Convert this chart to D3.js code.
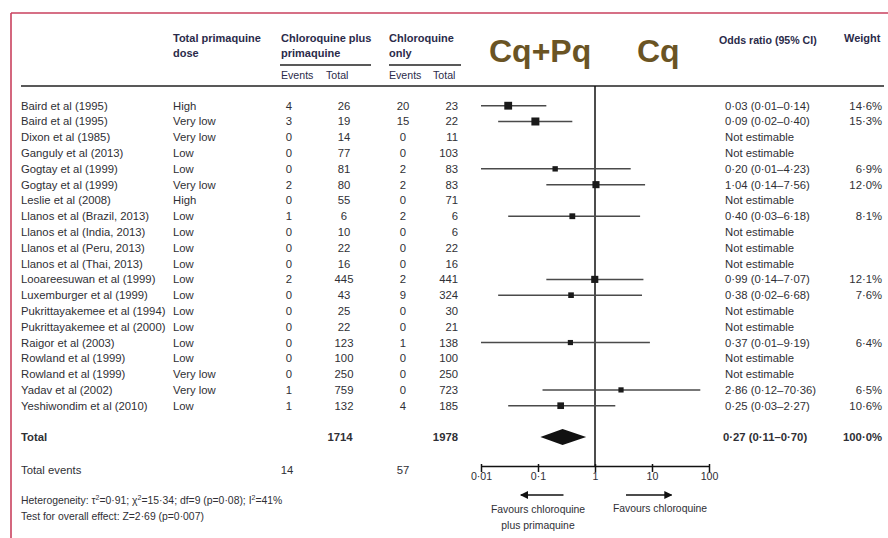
<!DOCTYPE html>
<html>
<head>
<meta charset="utf-8">
<script src="https://cdn.jsdelivr.net/npm/d3@7"></script>
<style>
  html, body { margin: 0; padding: 0; background: #fff; }
  svg { display: block; font-family: "Liberation Sans", Arial, sans-serif; }
</style>
</head>
<body>
<svg id="chart" width="888" height="538"></svg>
<script>
// Primaquine + chloroquine vs chloroquine alone: recurrence odds ratios by study
const studies = ["Baird et al (1995)", "Baird et al (1995)", "Dixon et al (1985)", "Ganguly et al (2013)",
  "Gogtay et al (1999)", "Gogtay et al (1999)", "Leslie et al (2008)", "Llanos et al (Brazil, 2013)",
  "Llanos et al (India, 2013)", "Llanos et al (Peru, 2013)", "Llanos et al (Thai, 2013)",
  "Looareesuwan et al (1999)", "Luxemburger et al (1999)", "Pukrittayakemee et al (1994)",
  "Pukrittayakemee et al (2000)", "Raigor et al (2003)", "Rowland et al (1999)", "Rowland et al (1999)",
  "Yadav et al (2002)", "Yeshiwondim et al (2010)"];
const doses = ["High", "Very low", "Very low", "Low", "Low", "Very low", "High", "Low", "Low", "Low", "Low",
  "Low", "Low", "Low", "Low", "Low", "Low", "Very low", "Very low", "Low"];
const cqpqEvents = [4, 3, 0, 0, 0, 2, 0, 1, 0, 0, 0, 2, 0, 0, 0, 0, 0, 0, 1, 1];
const cqpqTotal = [26, 19, 14, 77, 81, 80, 55, 6, 10, 22, 16, 445, 43, 25, 22, 123, 100, 250, 759, 132];
const cqEvents = [20, 15, 0, 0, 2, 2, 0, 2, 0, 0, 0, 2, 9, 0, 0, 1, 0, 0, 0, 4];
const cqTotal = [23, 22, 11, 103, 83, 83, 71, 6, 6, 22, 16, 441, 324, 30, 21, 138, 100, 250, 723, 185];
const oddsRatio = [0.03, 0.09, null, null, 0.20, 1.04, null, 0.40, null, null, null, 0.99, 0.38, null, null, 0.37, null, null, 2.86, 0.25];
const ciLow = [0.01, 0.02, null, null, 0.01, 0.14, null, 0.03, null, null, null, 0.14, 0.02, null, null, 0.01, null, null, 0.12, 0.03];
const ciHigh = [0.14, 0.40, null, null, 4.23, 7.56, null, 6.18, null, null, null, 7.07, 6.68, null, null, 9.19, null, null, 70.36, 2.27];
const weights = [14.6, 15.3, null, null, 6.9, 12.0, null, 8.1, null, null, null, 12.1, 7.6, null, null, 6.4, null, null, 6.5, 10.6];

// Pooled result
const pooled = { or: 0.27, lo: 0.11, hi: 0.70, weight: 100.0 };
const groupTotals = [1714, 1978];
const groupEvents = [14, 57];

// Axis ticks
const tickValues = [0.01, 0.1, 1, 10, 100];
const tickLabels = ["0·01", "0·1", "1", "10", "100"];

const svg = d3.select("#chart");
const ink = "#2f2f35";
const headInk = "#2b2b4a";
const fs = 11.3;

const dot = s => s.replace(/\./g, "·");
const f2 = d3.format(".2f");
const f1 = d3.format(".1f");

// Frame edges
svg.append("line").attr("x1", 11).attr("x2", 888).attr("y1", 13).attr("y2", 13)
  .attr("stroke", "#c9405e").attr("stroke-width", 1.6);
svg.append("line").attr("x1", 11).attr("x2", 11).attr("y1", 13).attr("y2", 538)
  .attr("stroke", "#c9405e").attr("stroke-width", 1.6);

// Scales
const x = d3.scaleLog().domain([0.01, 100]).range([481, 709]);
const y = d3.scalePoint().domain(d3.range(studies.length)).range([105.7, 405.7]);
const size = d3.scaleSqrt().domain([0, d3.max(weights)]).range([0, 8]);

// Header
const head = svg.append("g").attr("fill", headInk).attr("font-weight", "bold").attr("font-size", 11);
const headLines = [
  ["Total primaquine", 173, 42], ["dose", 173, 57],
  ["Chloroquine plus", 281, 42], ["primaquine", 281, 57],
  ["Chloroquine", 389, 42], ["only", 389, 57],
  ["Weight", 844, 42]
];
head.selectAll("text").data(headLines).join("text")
  .attr("x", d => d[0] === "Weight" ? d[1] : d[1]).attr("y", d => d[2]).text(d => d[0]);
svg.append("text").attr("x", 719).attr("y", 44).attr("font-size", 10.6).attr("font-weight", "bold")
  .attr("fill", headInk).text("Odds ratio (95% CI)");

svg.append("g").attr("font-size", 10.6).attr("fill", headInk)
  .selectAll("text").data([["Events", 281], ["Total", 326], ["Events", 389], ["Total", 433]]).join("text")
  .attr("x", d => d[1]).attr("y", 79).text(d => d[0]);

svg.append("g").attr("stroke", "#222").attr("stroke-width", 1.4)
  .selectAll("line").data([[280, 371], [389, 461]]).join("line")
  .attr("x1", d => d[0]).attr("x2", d => d[1]).attr("y1", 65).attr("y2", 65);
svg.append("line").attr("x1", 21).attr("x2", 884).attr("y1", 86).attr("y2", 86)
  .attr("stroke", "#222").attr("stroke-width", 1.5);

// Group labels
svg.append("g").attr("font-size", 32).attr("font-weight", "bold").attr("fill", "#6a5424")
  .selectAll("text").data([["Cq+Pq", 489], ["Cq", 637]]).join("text")
  .attr("x", d => d[1]).attr("y", 62).text(d => d[0]);

// Study rows
const rows = svg.append("g").attr("font-size", fs).attr("fill", ink)
  .selectAll("g").data(studies.map((s, i) => i)).join("g")
  .attr("transform", i => `translate(0,${y(i)})`);
rows.append("text").attr("x", 21).attr("dy", "0.35em").text(i => studies[i]);
rows.append("text").attr("x", 173).attr("dy", "0.35em").text(i => doses[i]);
rows.append("text").attr("x", 289).attr("dy", "0.35em").attr("text-anchor", "middle").text(i => cqpqEvents[i]);
rows.append("text").attr("x", 344).attr("dy", "0.35em").attr("text-anchor", "middle").text(i => cqpqTotal[i]);
rows.append("text").attr("x", 403).attr("dy", "0.35em").attr("text-anchor", "middle").text(i => cqEvents[i]);
rows.append("text").attr("x", 458).attr("dy", "0.35em").attr("text-anchor", "end").text(i => cqTotal[i]);
rows.append("text").attr("x", 725).attr("dy", "0.35em")
  .text(i => oddsRatio[i] == null ? "Not estimable"
    : `${dot(f2(oddsRatio[i]))} (${dot(f2(ciLow[i]))}–${dot(f2(ciHigh[i]))})`);
rows.append("text").attr("x", 882).attr("dy", "0.35em").attr("text-anchor", "end")
  .text(i => weights[i] == null ? "" : dot(f1(weights[i])) + "%");

// Reference line at OR = 1
svg.append("line").attr("x1", x(1)).attr("x2", x(1)).attr("y1", 86).attr("y2", 466)
  .attr("stroke", "#111").attr("stroke-width", 1.5);

// Confidence intervals and point estimates
const est = d3.range(studies.length).filter(i => oddsRatio[i] != null);
svg.append("g").selectAll("line").data(est).join("line")
  .attr("x1", i => x(ciLow[i])).attr("x2", i => x(ciHigh[i]))
  .attr("y1", i => y(i)).attr("y2", i => y(i))
  .attr("stroke", "#4a4a4a").attr("stroke-width", 1.5);
svg.append("g").selectAll("rect").data(est).join("rect")
  .attr("x", i => x(oddsRatio[i]) - size(weights[i]) / 2)
  .attr("y", i => y(i) - size(weights[i]) / 2)
  .attr("width", i => size(weights[i])).attr("height", i => size(weights[i]))
  .attr("fill", "#1a1a1a");

// Pooled row
const yTot = 437;
const tot = svg.append("g").attr("font-size", fs).attr("font-weight", "bold").attr("fill", ink);
tot.append("text").attr("x", 21).attr("y", yTot).attr("dy", "0.35em").text("Total");
tot.append("text").attr("x", 340).attr("y", yTot).attr("dy", "0.35em").attr("text-anchor", "middle").text(groupTotals[0]);
tot.append("text").attr("x", 458).attr("y", yTot).attr("dy", "0.35em").attr("text-anchor", "end").text(groupTotals[1]);
tot.append("text").attr("x", 723).attr("y", yTot).attr("dy", "0.35em")
  .text(`${dot(f2(pooled.or))} (${dot(f2(pooled.lo))}–${dot(f2(pooled.hi))})`);
tot.append("text").attr("x", 882).attr("y", yTot).attr("dy", "0.35em").attr("text-anchor", "end")
  .text(dot(f1(pooled.weight)) + "%");
svg.append("path")
  .attr("d", `M${x(pooled.lo)},${yTot}L${x(pooled.or)},${yTot - 8}L${x(pooled.hi)},${yTot}L${x(pooled.or)},${yTot + 8}Z`)
  .attr("fill", "#111");

// Total events
const ev = svg.append("g").attr("font-size", fs).attr("fill", ink);
ev.append("text").attr("x", 21).attr("y", 470).attr("dy", "0.35em").text("Total events");
ev.append("text").attr("x", 287).attr("y", 470).attr("dy", "0.35em").attr("text-anchor", "middle").text(groupEvents[0]);
ev.append("text").attr("x", 403).attr("y", 470).attr("dy", "0.35em").attr("text-anchor", "middle").text(groupEvents[1]);

// Statistics footnotes
const note = svg.append("g").attr("font-size", 10.4).attr("fill", ink);
const het = note.append("text").attr("x", 21).attr("y", 504);
het.append("tspan").text("Heterogeneity: τ");
het.append("tspan").attr("font-size", 7).attr("dy", -4).text("2");
het.append("tspan").attr("dy", 4).text("=0·91; χ");
het.append("tspan").attr("font-size", 7).attr("dy", -4).text("2");
het.append("tspan").attr("dy", 4).text("=15·34; df=9 (p=0·08); I");
het.append("tspan").attr("font-size", 7).attr("dy", -4).text("2");
het.append("tspan").attr("dy", 4).text("=41%");
note.append("text").attr("x", 21).attr("y", 520).text("Test for overall effect: Z=2·69 (p=0·007)");

// Axis
const axis = svg.append("g").attr("transform", "translate(0,466)")
  .call(d3.axisBottom(x).tickValues(tickValues).tickFormat((d, i) => tickLabels[i]).tickSize(6).tickSizeOuter(0));
axis.select(".domain").attr("stroke", "#111").attr("stroke-width", 1.5);
axis.selectAll(".tick line").attr("stroke", "#111").attr("stroke-width", 1.5).attr("y1", -2);
axis.selectAll(".tick text").attr("font-family", "Liberation Sans, Arial, sans-serif")
  .attr("font-size", 10.6).attr("fill", ink).attr("dy", "0.45em");

// Direction arrows
const defs = svg.append("defs");
defs.append("marker").attr("id", "head").attr("viewBox", "0 0 10 10").attr("refX", 9).attr("refY", 5)
  .attr("markerWidth", 6).attr("markerHeight", 6).attr("markerUnits", "userSpaceOnUse").attr("orient", "auto")
  .attr("markerWidth", 8).attr("markerHeight", 8)
  .append("path").attr("d", "M0,0L10,5L0,10Z").attr("fill", "#111");
svg.append("line").attr("x1", x(0.28)).attr("x2", x(0.05)).attr("y1", 495).attr("y2", 495)
  .attr("stroke", "#111").attr("stroke-width", 1.4).attr("marker-end", "url(#head)");
svg.append("line").attr("x1", x(3.5)).attr("x2", x(22)).attr("y1", 495).attr("y2", 495)
  .attr("stroke", "#111").attr("stroke-width", 1.4).attr("marker-end", "url(#head)");

const fav = svg.append("g").attr("font-size", 10.4).attr("fill", ink).attr("text-anchor", "middle");
fav.append("text").attr("x", 538).attr("y", 513).text("Favours chloroquine");
fav.append("text").attr("x", 538).attr("y", 529).text("plus primaquine");
fav.append("text").attr("x", 660).attr("y", 512).text("Favours chloroquine");
</script>
</body>
</html>
